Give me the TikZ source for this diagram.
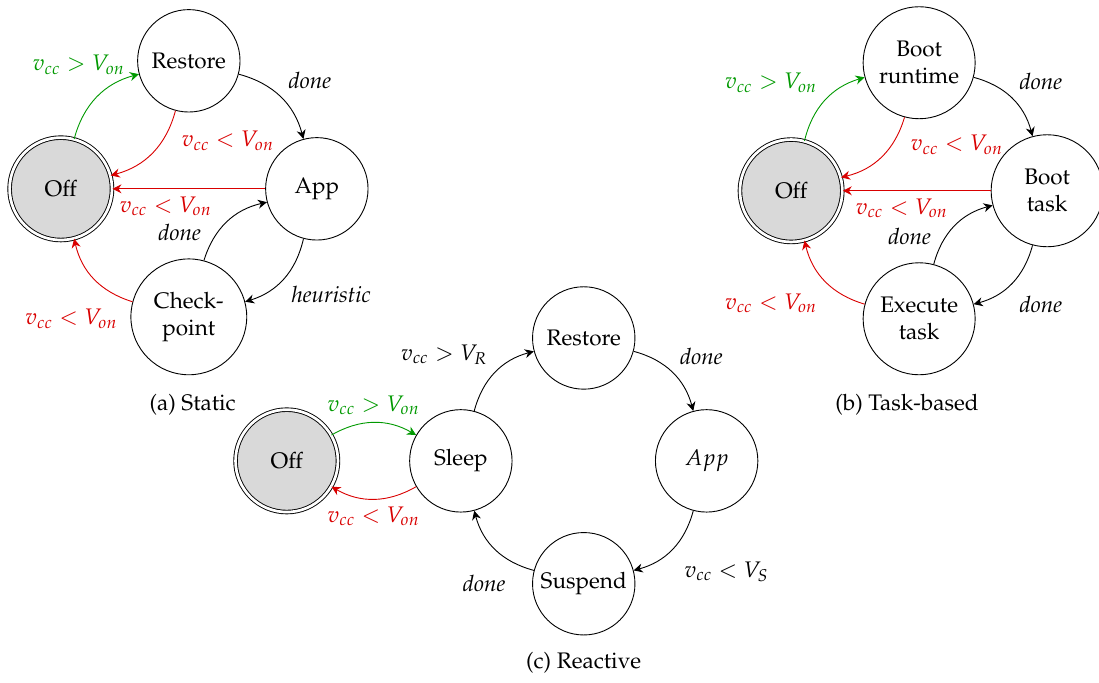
\documentclass[tikz,border=0pt]{standalone}
\usepackage[T1]{fontenc}
\usepackage{mathpazo}
\usetikzlibrary{arrows.meta,positioning}

\definecolor{upgreen}{RGB}{0,153,0}
\definecolor{downred}{RGB}{217,0,0}

\begin{document}
\begin{tikzpicture}
  [
  stnode/.style={draw, circle, align=center, minimum size=1.6cm, inner sep=2pt, font=\normalsize},
  bignode/.style={stnode, minimum size=1.75cm},
  offnode/.style={stnode, double, double distance=1.2pt, fill=gray!30},
  trans/.style={draw, -{Stealth[length=4pt, width=4pt]}, thin},
  powerup/.style={trans, upgreen},
  powerdown/.style={trans, downred},
  auto,
  on grid,
  node distance=2cm and 2cm
  ]
  \useasboundingbox (0,0) rectangle (17.17,-10.67);

  % (a) static checkpoints
  \node[offnode] (sOff) at (0.95,-2.95) {Off};
  \node[stnode] (sRestore) [above right=of sOff] {Restore};
  \node[stnode] (sApp) [below right=of sRestore] {App};
  \node[bignode, minimum size=1.81cm] (sCkpt) [below left=of sApp] {Check-\\point};
  \node (sCap) at (3.01,-6.33) {(a) Static};

  \path (sOff) edge[powerup, bend left] node[xshift=16pt, yshift=6.5pt] {$v_{cc} > V_{on}$} (sRestore)
        (sRestore) edge[powerdown, bend left] node[xshift=9.5pt, yshift=13pt] {$v_{cc} < V_{on}$} (sOff)
        (sRestore) edge[trans, bend left] node {\textit{done}} (sApp)
        (sApp) edge[powerdown] node[pos=0.65] {$v_{cc} < V_{on}$} (sOff)
        (sApp) edge[trans, bend left] node {\textit{heuristic}} (sCkpt)
        (sCkpt) edge[trans, bend left] node[xshift=-8pt, yshift=-12pt] {\textit{done}} (sApp)
        (sCkpt) edge[powerdown, bend left] node[xshift=14pt, yshift=-10pt] {$v_{cc} < V_{on}$} (sOff);

  % (b) task-based
  \node[offnode] (tOff) at (12.36,-2.98) {Off};
  \node[bignode] (tBoot) [above right=of tOff] {Boot\\runtime};
  \node[bignode] (tTask) [below right=of tBoot] {Boot\\task};
  \node[bignode] (tExec) [below left=of tTask] {Execute\\task};
  \node (tCap) at (14.17,-6.33) {(b) Task-based};

  \path (tOff) edge[powerup, bend left] node {$v_{cc} > V_{on}$} (tBoot)
        (tBoot) edge[powerdown, bend left] node[xshift=9.5pt, yshift=13pt] {$v_{cc} < V_{on}$} (tOff)
        (tBoot) edge[trans, bend left] node {\textit{done}} (tTask)
        (tTask) edge[powerdown] node[pos=0.6] {$v_{cc} < V_{on}$} (tOff)
        (tTask) edge[trans, bend left] node[yshift=-2pt] {\textit{done}} (tExec)
        (tExec) edge[trans, bend left] node[xshift=-7pt, yshift=-12pt] {\textit{done}} (tTask)
        (tExec) edge[powerdown, bend left] node[yshift=-2pt] {$v_{cc} < V_{on}$} (tOff);

  % (c) reactive
  \node[offnode] (rOff) at (4.48,-7.20) {Off};
  \node[stnode] (rSleep) [right=2.72cm of rOff] {Sleep};
  \node[stnode] (rRestore) [above right=1.92cm and 1.92cm of rSleep] {Restore};
  \node[stnode] (rApp) [below right=1.92cm and 1.92cm of rRestore] {$App$};
  \node[stnode] (rSusp) [below left=1.92cm and 1.92cm of rApp] {Suspend};
  \node (rCap) at (9.12,-10.36) {(c) Reactive};

  \path (rOff) edge[powerup, bend left] node {$v_{cc} > V_{on}$} (rSleep)
        (rSleep) edge[powerdown, bend left] node {$v_{cc} < V_{on}$} (rOff)
        (rSleep) edge[trans, bend left] node {$v_{cc} > V_R$} (rRestore)
        (rRestore) edge[trans, bend left] node {\textit{done}} (rApp)
        (rApp) edge[trans, bend left] node[xshift=2pt, yshift=-2pt] {$v_{cc} < V_S$} (rSusp)
        (rSusp) edge[trans, bend left] node[xshift=8pt, yshift=-8pt] {\textit{done}} (rSleep);
\end{tikzpicture}
\end{document}
